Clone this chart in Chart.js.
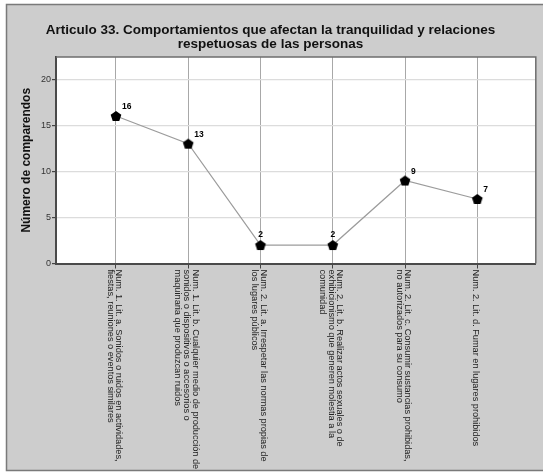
<!DOCTYPE html>
<html><head><meta charset="utf-8">
<script src="https://cdn.jsdelivr.net/npm/chart.js@4"></script>
<style>html,body{margin:0;padding:0;background:#fff}canvas{display:block}</style>
</head><body>
<canvas id="c" width="543" height="473"></canvas>
<script>
const categories = [
  ["Num. 1. Lit. a. Sonidos o ruidos en actividades,", "fiestas, reuniones o eventos similares"],
  ["Num. 1. Lit. b. Cualquier medio de producción de", "sonidos o dispositivos o accesorios o", "maquinaria que produzcan ruidos"],
  ["Num. 2. Lit. a. Irrespetar las normas propias de", "los lugares públicos"],
  ["Num. 2. Lit. b. Realizar actos sexuales o de", "exhibicionismo que generen molestia a la", "comunidad"],
  ["Num. 2. Lit. c. Consumir sustancias prohibidas,", "no autorizados para su consumo"],
  ["Num. 2. Lit. d. Fumar en lugares prohibidos"]
];
const values = [16, 13, 2, 2, 9, 7];
const yTicks = [0, 5, 10, 15, 20];
const titleLines = ["Articulo 33. Comportamientos que afectan la tranquilidad y relaciones", "respetuosas de las personas"];
const yTitle = "Número de comparendos";

// label placement styles (not data)
const labelAnchor = ['ne', 'ne', 'n', 'n', 'ne', 'ne'];

const FONT = "'Liberation Sans', Arial, sans-serif";

// pentagon marker
function pentagon(r) {
  const s = Math.ceil(r * 2 + 2);
  const cv = document.createElement('canvas');
  cv.width = s; cv.height = s;
  const g = cv.getContext('2d');
  g.fillStyle = '#000';
  g.beginPath();
  for (let k = 0; k < 5; k++) {
    const a = -Math.PI / 2 + k * 2 * Math.PI / 5;
    const px = s / 2 + r * Math.cos(a), py = s / 2 + 0.5 + r * Math.sin(a);
    k ? g.lineTo(px, py) : g.moveTo(px, py);
  }
  g.closePath(); g.fill();
  return cv;
}
const marker = pentagon(5.6);

const framePlugin = {
  id: 'frame',
  beforeDraw(chart) {
    const ctx = chart.ctx, a = chart.chartArea;
    ctx.save();
    ctx.fillStyle = '#cdcdcd';
    ctx.fillRect(6, 4, chart.width - 6, 467);
    ctx.strokeStyle = '#7a7a7a'; ctx.lineWidth = 1.5;
    ctx.beginPath();
    ctx.moveTo(chart.width, 4.5); ctx.lineTo(6.5, 4.5); ctx.lineTo(6.5, 470.5); ctx.lineTo(chart.width, 470.5);
    ctx.stroke();
    ctx.fillStyle = '#ffffff';
    ctx.fillRect(a.left, a.top, a.right - a.left, a.bottom - a.top);
    ctx.restore();
  },
  afterDatasetsDraw(chart) {
    const ctx = chart.ctx, a = chart.chartArea;
    ctx.save();
    // top/right border
    ctx.strokeStyle = '#6e6e6e'; ctx.lineWidth = 1.5;
    ctx.beginPath();
    ctx.moveTo(a.left, a.top); ctx.lineTo(a.right, a.top); ctx.lineTo(a.right, a.bottom);
    ctx.stroke();
    // value labels
    const meta = chart.getDatasetMeta(0);
    ctx.fillStyle = '#000';
    ctx.font = "bold 8.5px " + FONT;
    meta.data.forEach((pt, i) => {
      const an = labelAnchor[i];
      if (an === 'n') { ctx.textAlign = 'center'; ctx.textBaseline = 'bottom'; ctx.fillText(String(values[i]), pt.x, pt.y - 6); }
      else { ctx.textAlign = 'left'; ctx.textBaseline = 'bottom'; ctx.fillText(String(values[i]), pt.x + 6, pt.y - 5); }
    });
    // x category labels rotated clockwise
    const xs = chart.scales.x;
    ctx.fillStyle = '#222';
    ctx.font = "9.2px " + FONT;
    ctx.textAlign = 'left'; ctx.textBaseline = 'middle';
    const lh = 8.7;
    categories.forEach((lines, i) => {
      const x = xs.getPixelForValue(i);
      ctx.save();
      ctx.translate(x - 1.5, a.bottom + 6);
      ctx.rotate(Math.PI / 2);
      lines.forEach((t, j) => {
        ctx.fillText(t, 0, (j - (lines.length - 1) / 2) * lh);
      });
      ctx.restore();
    });
    ctx.restore();
  }
};

new Chart(document.getElementById('c'), {
  type: 'line',
  data: {
    datasets: [{
      data: values.map((v, i) => ({ x: i, y: v })),
      borderColor: '#9c9c9c',
      borderWidth: 1.2,
      pointStyle: marker,
      pointRadius: 6,
      pointHoverRadius: 6,
      tension: 0
    }]
  },
  options: {
    responsive: false,
    animation: false,
    devicePixelRatio: 1,
    layout: { padding: { left: 0, right: 2, top: 0, bottom: 0 } },
    plugins: {
      legend: { display: false },
      tooltip: { enabled: false },
      title: {
        display: true,
        text: titleLines,
        color: '#111',
        font: { family: FONT, size: 13.5, weight: 'bold', lineHeight: 1.0 },
        padding: { top: 24, bottom: 6 }
      }
    },
    scales: {
      x: {
        type: 'linear',
        min: -0.83,
        max: 5.81,
        afterBuildTicks(s) { s.ticks = categories.map((c, i) => ({ value: i })); },
        afterFit(s) { s.height = 473 - 263.5; },
        ticks: { display: false },
        grid: { color: '#a8a8a8', lineWidth: 1, drawTicks: true, tickLength: 5, tickColor: '#444' },
        border: { color: '#4a4a4a', width: 2 }
      },
      y: {
        min: 0,
        max: 22.4,
        afterBuildTicks(s) { s.ticks = yTicks.map(v => ({ value: v })); },
        afterFit(s) { s.width = 56; },
        ticks: { color: '#333', font: { family: FONT, size: 9 }, padding: 1 },
        grid: { color: '#dcdcdc', lineWidth: 1.2, drawTicks: true, tickLength: 4, tickColor: '#444' },
        border: { color: '#4a4a4a', width: 2 },
        title: {
          display: true, text: yTitle, color: '#111',
          font: { family: FONT, size: 12, weight: 'bold' },
          padding: { top: 19, bottom: 0 }
        }
      }
    }
  },
  plugins: [framePlugin]
});
</script>
</body></html>
